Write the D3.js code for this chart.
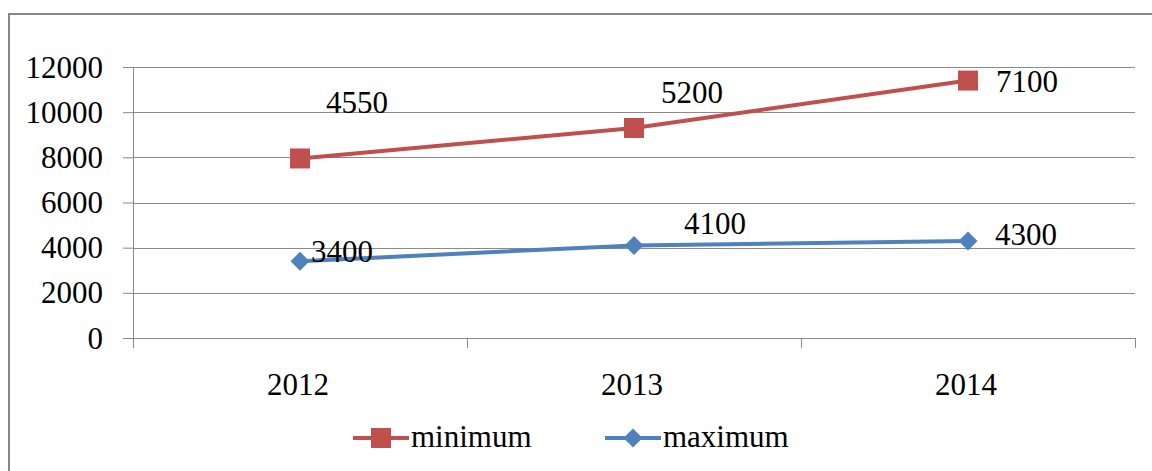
<!DOCTYPE html>
<html>
<head>
<meta charset="utf-8">
<script src="https://cdn.jsdelivr.net/npm/d3@7/dist/d3.min.js"></script>
<style>
  html, body { margin: 0; padding: 0; background: #fff; }
  svg { display: block; }
</style>
</head>
<body>
<svg id="chart" width="1152" height="471" font-family="Liberation Serif"></svg>
<script>
// Stacked line chart: the "minimum" series is stacked on top of "maximum".
const years = ["2012", "2013", "2014"];
const maximumValues = [3400, 4100, 4300];
const minimumValues = [4550, 5200, 7100];
const yTicks = [0, 2000, 4000, 6000, 8000, 10000, 12000];
const seriesNames = ["minimum", "maximum"];

// Hand-placed data label offsets (dx, dy of baseline) relative to each point
const minLabelOffsets = [[57, -45], [58, -25], [59, 11]];
const maxLabelOffsets = [[42, 1], [81, -11], [58, 4]];

const RED = "#C0504D", BLUE = "#4F81BD", GRID = "#8a8a8a";
const FONT_FAMILY = '"Liberation Serif"';
const FONT = 31;

const svg = d3.select("#chart");

function styleText(sel) {
  sel.style("font-family", FONT_FAMILY).style("font-size", FONT + "px").style("fill", "#000");
}

// chart frame
svg.append("path")
  .attr("d", "M9,471 L9,14 L1152,14")
  .attr("fill", "none").attr("stroke", "#878787").attr("stroke-width", 2);

const plotLeft = 133, plotRight = 1135, plotTop = 67, plotBottom = 338;

const x = d3.scaleBand().domain(years).range([plotLeft, plotRight]);
const y = d3.scaleLinear().domain([0, 12000]).range([plotBottom, plotTop]);

// y axis with ticks
const yAxis = d3.axisLeft(y).tickValues(yTicks).tickSize(10).tickPadding(20)
  .tickFormat(d3.format("d"));
const gy = svg.append("g").attr("transform", `translate(${plotLeft},0)`).call(yAxis)
  .attr("font-family", null).attr("font-size", null);
gy.select(".domain").attr("stroke", GRID);
gy.selectAll(".tick line").attr("stroke", GRID);
gy.selectAll(".tick text").attr("dy", null).attr("y", 10);
styleText(gy.selectAll(".tick text"));

// horizontal gridlines
svg.append("g").selectAll("line").data(yTicks.filter(d => d > 0)).join("line")
  .attr("x1", plotLeft).attr("x2", plotRight)
  .attr("y1", d => Math.round(y(d)) + 0.5).attr("y2", d => Math.round(y(d)) + 0.5)
  .attr("stroke", GRID).attr("stroke-width", 1);

// x axis with tick marks at band boundaries
const gx = svg.append("g").attr("transform", `translate(0,${plotBottom})`)
  .call(d3.axisBottom(x).tickSize(0).tickPadding(0))
  .attr("font-family", null).attr("font-size", null);
gx.select(".domain").attr("stroke", GRID);
gx.selectAll(".tick text").attr("dy", null).attr("y", 57).attr("x", -2);
styleText(gx.selectAll(".tick text"));
const bounds = years.map(d => x(d)).concat([x(years[years.length - 1]) + x.bandwidth()]);
svg.append("g").selectAll("line").data(bounds).join("line")
  .attr("x1", d => Math.round(d) + 0.5).attr("x2", d => Math.round(d) + 0.5)
  .attr("y1", plotBottom).attr("y2", plotBottom + 10)
  .attr("stroke", GRID);

// stacked values
const stackedTop = minimumValues.map((v, i) => v + maximumValues[i]);
const cx = d => x(d) + x.bandwidth() / 2;

const line = d3.line().x(d => cx(d.year)).y(d => y(d.v));
const maxPts = years.map((yr, i) => ({ year: yr, v: maximumValues[i], label: maximumValues[i] }));
const minPts = years.map((yr, i) => ({ year: yr, v: stackedTop[i], label: minimumValues[i] }));

const diamond = (g, px, py, r) => g.append("path")
  .attr("d", `M${px},${py - r} L${px + r},${py} L${px},${py + r} L${px - r},${py} Z`);

// maximum series (blue, diamonds)
svg.append("path").datum(maxPts).attr("d", line)
  .attr("fill", "none").attr("stroke", BLUE).attr("stroke-width", 4);
const gMax = svg.append("g").attr("fill", BLUE);
maxPts.forEach(p => diamond(gMax, cx(p.year), y(p.v), 9.5));

// minimum series (red, squares), stacked
svg.append("path").datum(minPts).attr("d", line)
  .attr("fill", "none").attr("stroke", RED).attr("stroke-width", 4);
svg.append("g").selectAll("rect").data(minPts).join("rect")
  .attr("x", d => cx(d.year) - 10).attr("y", d => y(d.v) - 10)
  .attr("width", 20).attr("height", 20).attr("fill", RED);

// data labels
const labels = svg.append("g").attr("text-anchor", "middle");
maxPts.forEach((p, i) => labels.append("text")
  .attr("x", cx(p.year) + maxLabelOffsets[i][0]).attr("y", y(p.v) + maxLabelOffsets[i][1])
  .text(p.label));
minPts.forEach((p, i) => labels.append("text")
  .attr("x", cx(p.year) + minLabelOffsets[i][0]).attr("y", y(p.v) + minLabelOffsets[i][1])
  .text(p.label));
styleText(labels.selectAll("text"));

// legend
const legend = svg.append("g");
const legendItems = [
  { name: seriesNames[0], color: RED, x0: 353, marker: "square" },
  { name: seriesNames[1], color: BLUE, x0: 605, marker: "diamond" }
];
const ly = 438;
legendItems.forEach(it => {
  legend.append("line").attr("x1", it.x0).attr("x2", it.x0 + 56)
    .attr("y1", ly).attr("y2", ly).attr("stroke", it.color).attr("stroke-width", 4);
  const mx = it.x0 + 28;
  if (it.marker === "square") {
    legend.append("rect").attr("x", mx - 10).attr("y", ly - 10)
      .attr("width", 20).attr("height", 20).attr("fill", it.color);
  } else {
    diamond(legend, mx, ly, 9.5).attr("fill", it.color);
  }
  legend.append("text").attr("x", it.x0 + 58).attr("y", ly + 9).text(it.name);
});
styleText(legend.selectAll("text"));
</script>
</body>
</html>
